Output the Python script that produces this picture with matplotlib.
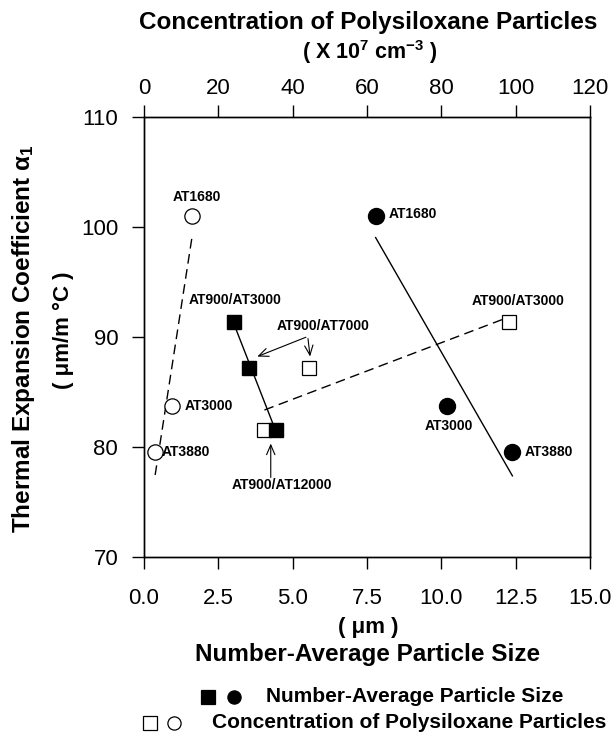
import numpy as np
import matplotlib
matplotlib.use("Agg")
from matplotlib import pyplot as plt
from matplotlib.lines import Line2D
from matplotlib.transforms import offset_copy

plt.rcParams['font.family'] = ['Liberation Sans', 'DejaVu Sans']
plt.rcParams['mathtext.default'] = 'regular'

# values
# blends: filled squares use particle size, open squares use concentration
blend_names = ["AT900/AT3000", "AT900/AT7000", "AT900/AT12000"]
blend_size = [3.04, 3.53, 4.45]      # um
blend_conc = [98.2, 44.5, 32.4]      # x 10^7 cm^-3
blend_alpha = [91.4, 87.2, 81.5]     # um/m C

# single grades: filled circles use size, open circles use concentration
single_names = ["AT1680", "AT3000", "AT3880"]
single_size = [7.79, 10.18, 12.39]
single_conc = [13.0, 7.6, 3.0]
single_alpha = [101.0, 83.7, 79.5]

size_ticks = [0.0, 2.5, 5.0, 7.5, 10.0, 12.5, 15.0]
conc_ticks = [0, 20, 40, 60, 80, 100, 120]
alpha_ticks = [70, 80, 90, 100, 110]

W, H = 612.0, 734.0


def fpos(px, py):
    # pixel position in the 612x734 picture -> figure fraction
    return px / W, 1 - py / H


def fit_line(x, y):
    k, b = np.polyfit(x, y, 1)
    xs = np.array([min(x), max(x)])
    return xs, k * xs + b


fig = plt.figure(figsize=(6.12, 7.34), dpi=100)
ax = fig.add_axes([144 / W, 1 - 557 / H, 446 / W, 440 / H])
ax2 = ax.twiny()
ax.set_zorder(ax2.get_zorder() + 1)
ax.patch.set_visible(False)

ax.set_xlim(0, 15)
ax.set_ylim(70, 110)
ax2.set_xlim(0, 120)
ax.set_xticks(size_ticks)
ax.set_xticklabels(["%.1f" % v for v in size_ticks])
ax.set_yticks(alpha_ticks)
ax2.set_xticks(conc_ticks)

for a in (ax, ax2):
    for s in a.spines.values():
        s.set_linewidth(1.0)
ax.tick_params(axis='x', length=8.6, width=1, pad=13.5, labelsize=16)
ax.tick_params(axis='y', length=8.6, width=1, pad=10, labelsize=16)
ax2.tick_params(axis='x', length=8.6, width=1, pad=4.5, labelsize=16)

dash = (7, 4)
# fitted lines
xs, ys = fit_line(blend_size, blend_alpha)
ax.plot(xs, ys, color='black', lw=1.0)
xs, ys = fit_line(single_size, single_alpha)
ax.plot(xs, ys, color='black', lw=1.0)
xs, ys = fit_line(blend_conc, blend_alpha)
ax2.plot(xs, ys, color='black', lw=1.0, dashes=dash)
xs, ys = fit_line(single_conc, single_alpha)
ax2.plot(xs, ys, color='black', lw=1.0, dashes=dash)

# markers
ax2.plot(blend_conc, blend_alpha, 's', ms=10.5, mfc='white', mec='black', mew=0.9, ls='none')
ax2.plot(single_conc, single_alpha, 'o', ms=11, mfc='white', mec='black', mew=0.9, ls='none')
ax.plot(blend_size, blend_alpha, 's', ms=10.5, color='black', ls='none')
ax.plot(single_size, single_alpha, 'o', ms=11.5, color='black', ls='none')

lab = dict(fontsize=10, fontweight='bold', textcoords='offset points', va='center')

# open circles
ax2.annotate(single_names[0], (single_conc[0], single_alpha[0]), xytext=(3, 14), ha='center', **lab)
ax2.annotate(single_names[1], (single_conc[1], single_alpha[1]), xytext=(8.6, 0), ha='left', **lab)
ax2.annotate(single_names[2], (single_conc[2], single_alpha[2]), xytext=(5, 0), ha='left', **lab)
# filled circles
ax.annotate(single_names[0], (single_size[0], single_alpha[0]), xytext=(9.4, 1.5), ha='left', **lab)
ax.annotate(single_names[1], (single_size[1], single_alpha[1]), xytext=(1.5, -14.4), ha='center', **lab)
ax.annotate(single_names[2], (single_size[2], single_alpha[2]), xytext=(9, 0.7), ha='left', **lab)
# blends
ax.annotate(blend_names[0], (blend_size[0], blend_alpha[0]), xytext=(0.5, 15.6), ha='center', **lab)
ax2.annotate(blend_names[0], (blend_conc[0], blend_alpha[0]), xytext=(6.5, 14.8), ha='center', **lab)
ax2.annotate(blend_names[1], (blend_conc[1], blend_alpha[1]), xytext=(9.9, 30), ha='center', **lab)
ax.annotate(blend_names[2], (blend_size[2], blend_alpha[2]), xytext=(4.1, -39.6), ha='center', **lab)

arrow = dict(arrowstyle='->,head_length=0.7,head_width=0.3', color='black', lw=0.8,
             shrinkA=0, shrinkB=0, mutation_scale=10)


def pointer(a, x, y, start, tip):
    # arrow from start to tip, both given in points relative to a data point
    src = offset_copy(a.transData, fig=fig, x=start[0], y=start[1], units='points')
    dst = offset_copy(a.transData, fig=fig, x=tip[0], y=tip[1], units='points')
    a.annotate("", xy=(x, y), xycoords=dst, xytext=(x, y), textcoords=src, arrowprops=arrow)


pointer(ax, blend_size[1], blend_alpha[1], (41, 22), (6, 8.1))
pointer(ax2, blend_conc[1], blend_alpha[1], (-1, 21), (0.5, 8.1))
pointer(ax, blend_size[2], blend_alpha[2], (-4, -33.8), (-4, -9.4))

# axis titles
bold = dict(fontweight='bold', ha='center', va='center')
fig.text(*fpos(368, 22), "Concentration of Polysiloxane Particles", fontsize=17.5, **bold)
fig.text(*fpos(370, 52), "( X 10$^7$ cm$^{-3}$ )", fontsize=15.5, **bold)
fig.text(*fpos(368, 627), "( μm )", fontsize=16, **bold)
fig.text(*fpos(368, 655), "Number-Average Particle Size", fontsize=17.5, **bold)
fig.text(*fpos(24, 339), "Thermal Expansion Coefficient α$_1$", fontsize=17.5, rotation=90, **bold)
fig.text(*fpos(63, 330), "( μm/m °C )", fontsize=16, rotation=90, **bold)

# key at the bottom
key = [
    (697, 208, 234, 266, 's', 'o', 'black', "Number-Average Particle Size"),
    (723, 150, 174, 212, 's', 'o', 'white', "Concentration of Polysiloxane Particles"),
]
for py, xa, xb, xt, m1, m2, face, txt in key:
    for px, m in ((xa, m1), (xb, m2)):
        x, y = fpos(px, py)
        fig.add_artist(Line2D([x], [y], marker=m, ms=9.5, mfc=face, mec='black', mew=0.9,
                              ls='none', transform=fig.transFigure))
    fig.text(*fpos(xt, py), txt, fontsize=15, fontweight='bold', ha='left', va='center')

fig.savefig("out.png", dpi=100)
